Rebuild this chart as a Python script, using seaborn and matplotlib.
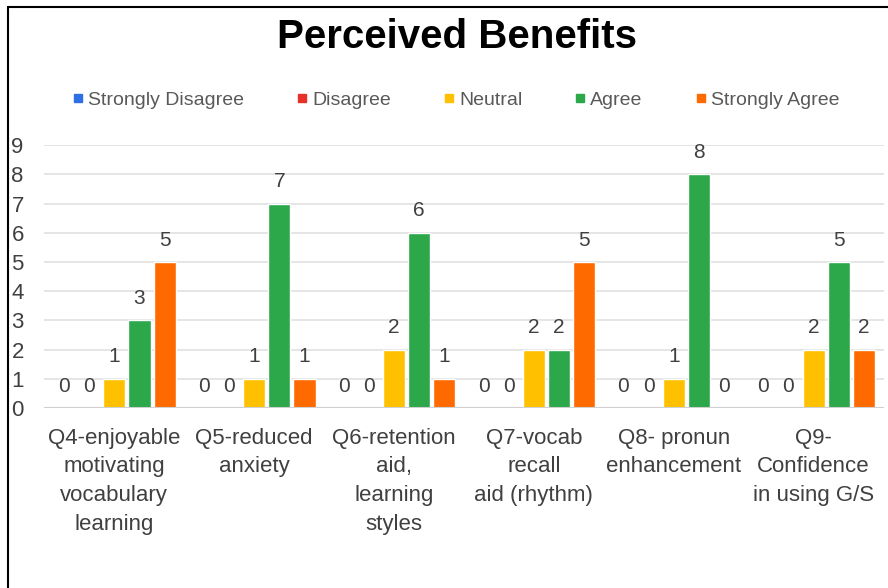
import pandas as pd
import numpy as np
import seaborn as sns
import matplotlib.pyplot as plt
from matplotlib.lines import Line2D

# Données du graphique
questions = ['Q4-enjoyable\nmotivating\nvocabulary\nlearning', 'Q5-reduced\nanxiety',
             'Q6-retention\naid,\nlearning\nstyles', 'Q7-vocab\nrecall\naid (rhythm)',
             'Q8- pronun\nenhancement', 'Q9-\nConfidence\nin using G/S']
reponses = ['Strongly Disagree', 'Disagree', 'Neutral', 'Agree', 'Strongly Agree']
strongly_disagree = [0, 0, 0, 0, 0, 0]
disagree = [0, 0, 0, 0, 0, 0]
neutral = [1, 1, 2, 2, 1, 2]
agree = [3, 7, 6, 2, 8, 5]
strongly_agree = [5, 1, 1, 5, 0, 2]
couleurs = ['#2f6fe6', '#e8302a', '#ffc000', '#2ca84a', '#ff6a00']

valeurs = [strongly_disagree, disagree, neutral, agree, strongly_agree]
donnees = pd.DataFrame({
    'Question': np.tile(questions, len(reponses)),
    'Reponse': np.repeat(reponses, len(questions)),
    'Nombre': np.concatenate(valeurs),
})

sns.set_style('white')
plt.rcParams['font.family'] = ['Liberation Sans', 'DejaVu Sans']

fig = plt.figure(figsize=(8.88, 5.88), dpi=100)
ax = fig.add_axes([0.05, 0.306, 0.945, 0.447])

sns.barplot(data=donnees, x='Question', y='Nombre', hue='Reponse',
            hue_order=reponses, palette=couleurs, saturation=1, width=0.9, gap=0.12,
            errorbar=None, ax=ax, legend=False)

for c in ax.containers:
    ax.bar_label(c, labels=[f'{v:.0f}' for v in c.datavalues], padding=9,
                 fontsize=15, color='#404040')

ax.set_ylim(0, 9)
ax.set_yticks(range(10))
ax.grid(axis='y', color='#e0e0e0', linewidth=1.2)
ax.set_axisbelow(True)
for s in ax.spines.values():
    s.set_visible(False)
ax.axhline(0, color='#d0d0d0', linewidth=1.5)
ax.set_xlabel('')
ax.set_ylabel('')
ax.set_xticks(range(len(questions)))
ax.set_xticklabels(questions, linespacing=1.48)
ax.tick_params(axis='y', labelsize=16, labelcolor='#404040', pad=2, length=0)
ax.tick_params(axis='x', labelsize=16, labelcolor='#404040', pad=14, length=0)
for t in ax.get_yticklabels():
    t.set_horizontalalignment('left')
    t.set_x(-0.036)

# Légende
poignees = [Line2D([], [], marker='s', linestyle='', markersize=6, color=c) for c in couleurs]
fig.legend(poignees, reponses, loc='center', bbox_to_anchor=(0.51, 0.83), ncol=5,
           frameon=False, fontsize=14, labelcolor='#595959', handletextpad=-0.1,
           handlelength=1.2, columnspacing=2.4)

fig.suptitle('Perceived Benefits', x=0.515, y=0.97, fontsize=29, fontweight='bold', color='black')

# Cadre (haut et gauche)
fig.add_artist(Line2D([0.009, 1.0], [0.988, 0.988], color='black', linewidth=1.5, transform=fig.transFigure))
fig.add_artist(Line2D([0.009, 0.009], [0.0, 0.988], color='black', linewidth=1.5, transform=fig.transFigure))

fig.savefig('out.png', dpi=100)
